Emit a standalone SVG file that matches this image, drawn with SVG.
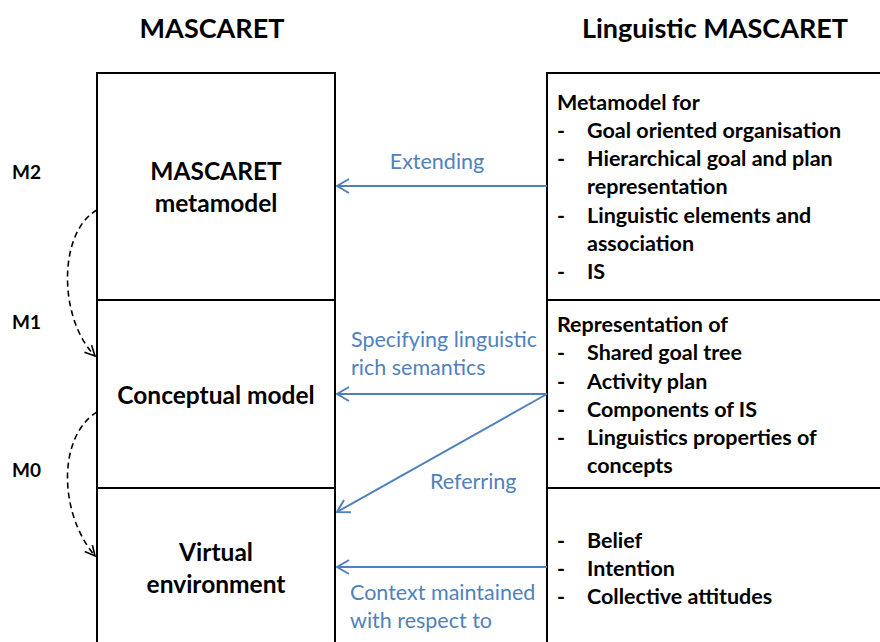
<svg xmlns="http://www.w3.org/2000/svg" width="880" height="642" viewBox="0 0 880 642">
<defs>
<style>
.box{fill:#fff;stroke:#000;stroke-width:2}
.t{font-family:Lato,"Liberation Sans",sans-serif;font-weight:bold;fill:#000}
.title{font-size:27px}
.lvl{font-size:19px}
.lt{font-size:24.5px;text-anchor:middle}
.rt{font-size:21.5px}
.bl{font-family:Lato,"Liberation Sans",sans-serif;font-size:21.5px;fill:#4F81BD}
.ar{stroke:#4F81BD;stroke-width:2;fill:none;marker-end:url(#ba)}
.da{stroke:#000;stroke-width:1.6;fill:none;stroke-dasharray:6,4;marker-end:url(#ka)}
</style>
<marker id="ba" viewBox="0 0 14 16" refX="13" refY="8" markerWidth="14" markerHeight="16" markerUnits="userSpaceOnUse" orient="auto">
<path d="M1,1 L13,8 L1,15" fill="none" stroke="#4F81BD" stroke-width="2"/>
</marker>
<marker id="ka" viewBox="0 0 12 12" refX="11" refY="6" markerWidth="12" markerHeight="12" markerUnits="userSpaceOnUse" orient="auto">
<path d="M1,1 L11,6 L1,11" fill="none" stroke="#000" stroke-width="1.6"/>
</marker>
</defs>
<rect width="880" height="642" fill="#fff"/>
<text class="t title" x="212" y="38" text-anchor="middle">MASCARET</text>
<text class="t title" x="715" y="38" text-anchor="middle">Linguistic MASCARET</text>
<text class="t lvl" x="12" y="179">M2</text>
<text class="t lvl" x="12" y="329">M1</text>
<text class="t lvl" x="12" y="477">M0</text>
<g id="mascaret-metamodel">
<rect class="box" x="97" y="73" width="238" height="227"/>
<text class="t lt" x="216" y="180">MASCARET</text>
<text class="t lt" x="216" y="212">metamodel</text>
</g>
<g id="conceptual-model">
<rect class="box" x="97" y="300" width="238" height="188"/>
<text class="t lt" x="216" y="404">Conceptual model</text>
</g>
<g id="virtual-environment">
<rect class="box" x="97" y="488" width="238" height="160"/>
<text class="t lt" x="216" y="561">Virtual</text>
<text class="t lt" x="216" y="593">environment</text>
</g>
<g id="ling-metamodel">
<rect class="box" x="547" y="73" width="340" height="227"/>
<text class="t rt" x="557" y="110">Metamodel for</text>
<text class="t rt" x="557" y="138">-</text><text class="t rt" x="587" y="138">Goal oriented organisation</text>
<text class="t rt" x="557" y="166">-</text><text class="t rt" x="587" y="166">Hierarchical goal and plan</text>
<text class="t rt" x="587" y="194">representation</text>
<text class="t rt" x="557" y="223">-</text><text class="t rt" x="587" y="223">Linguistic elements and</text>
<text class="t rt" x="587" y="251">association</text>
<text class="t rt" x="557" y="279">-</text><text class="t rt" x="587" y="279">IS</text>
</g>
<g id="ling-representation">
<rect class="box" x="547" y="300" width="340" height="188"/>
<text class="t rt" x="557" y="332">Representation of</text>
<text class="t rt" x="557" y="360">-</text><text class="t rt" x="587" y="360">Shared goal tree</text>
<text class="t rt" x="557" y="389">-</text><text class="t rt" x="587" y="389">Activity plan</text>
<text class="t rt" x="557" y="417">-</text><text class="t rt" x="587" y="417">Components of IS</text>
<text class="t rt" x="557" y="445">-</text><text class="t rt" x="587" y="445">Linguistics properties of</text>
<text class="t rt" x="587" y="473">concepts</text>
</g>
<g id="ling-attitudes">
<rect class="box" x="547" y="488" width="340" height="160"/>
<text class="t rt" x="557" y="548">-</text><text class="t rt" x="587" y="548">Belief</text>
<text class="t rt" x="557" y="576">-</text><text class="t rt" x="587" y="576">Intention</text>
<text class="t rt" x="557" y="604">-</text><text class="t rt" x="587" y="604">Collective attitudes</text>
</g>
<g id="connectors">
<path class="ar" d="M547,186 L337,186"/>
<path class="ar" d="M547,394 L337,394"/>
<path class="ar" d="M547,394 L337,512"/>
<path class="ar" d="M547,567 L337,567"/>
<path class="da" d="M97,210 C58,232 58,318 95,356"/>
<path class="da" d="M97,412 C58,436 58,512 95,556"/>
<text class="bl" x="437" y="169" text-anchor="middle">Extending</text>
<text class="bl" x="351" y="347">Specifying linguistic</text>
<text class="bl" x="351" y="375">rich semantics</text>
<text class="bl" x="430" y="489">Referring</text>
<text class="bl" x="350" y="600">Context maintained</text>
<text class="bl" x="350" y="628">with respect to</text>
</g>
</svg>
